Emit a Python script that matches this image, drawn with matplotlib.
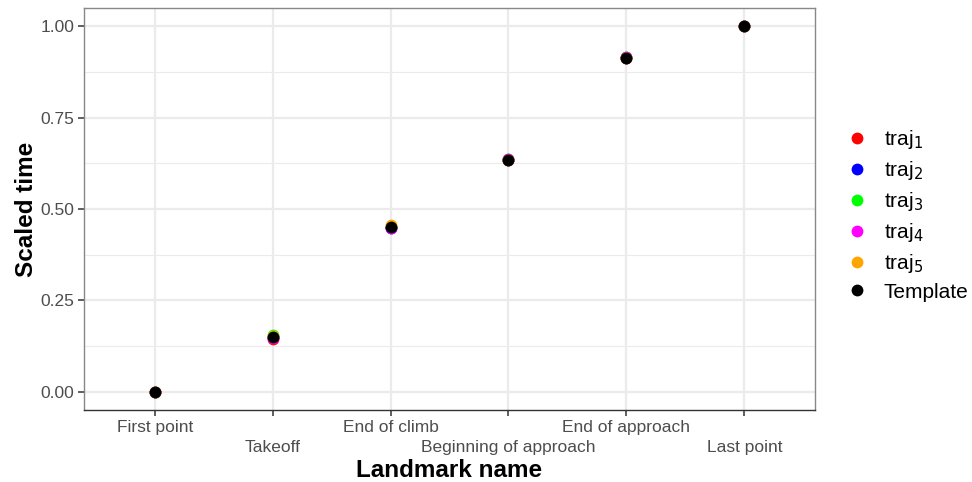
import matplotlib

matplotlib.use("Agg")

import matplotlib.pyplot as plt
from matplotlib.lines import Line2D

plt.rcParams["font.family"] = ["Liberation Sans", "DejaVu Sans"]

LANDMARKS = [
    "First point",
    "Takeoff",
    "End of climb",
    "Beginning of approach",
    "End of approach",
    "Last point",
]

# scaled landmark times per trajectory
TRAJ_1 = [0.0, 0.144, 0.450, 0.635, 0.914, 1.0]
TRAJ_2 = [0.0, 0.149, 0.449, 0.635, 0.914, 1.0]
TRAJ_3 = [0.0, 0.154, 0.452, 0.636, 0.915, 1.0]
TRAJ_4 = [0.0, 0.148, 0.447, 0.637, 0.916, 1.0]
TRAJ_5 = [0.0, 0.153, 0.456, 0.635, 0.914, 1.0]
TEMPLATE = [0.0, 0.149, 0.451, 0.635, 0.914, 1.0]

SERIES = [
    (r"traj$_1$", TRAJ_1, "#ff0000"),
    (r"traj$_2$", TRAJ_2, "#0000ff"),
    (r"traj$_3$", TRAJ_3, "#00ff00"),
    (r"traj$_4$", TRAJ_4, "#ff00ff"),
    (r"traj$_5$", TRAJ_5, "#ffa500"),
    ("Template", TEMPLATE, "#000000"),
]

Y_TICKS = [0.0, 0.25, 0.5, 0.75, 1.0]
Y_MINOR = [0.125, 0.375, 0.625, 0.875]

fig = plt.figure(figsize=(9.72, 4.82), dpi=100)
ax = fig.add_axes([84 / 972, 1 - 410 / 482, 731 / 972, 402 / 482])

x = list(range(len(LANDMARKS)))
for label, values, color in SERIES:
    ax.scatter(x, values, s=72, color=color, linewidths=0, zorder=3, label=label)

ax.set_xlim(-0.6, len(LANDMARKS) - 0.4)
ax.set_ylim(-0.05, 1.05)

# alternate rows of category labels: major ticks on even, minor on odd positions
ax.set_xticks(x[0::2])
ax.set_xticklabels(LANDMARKS[0::2])
ax.set_xticks(x[1::2], minor=True)
ax.set_xticklabels(LANDMARKS[1::2], minor=True)
ax.tick_params(axis="x", which="major", length=4, width=1.1, color="#333333",
               pad=3, labelsize=12.5, labelcolor="#4d4d4d")
ax.tick_params(axis="x", which="minor", length=4, width=1.1, color="#333333",
               pad=17.5, labelsize=12.5, labelcolor="#4d4d4d")

ax.set_yticks(Y_TICKS)
ax.set_yticklabels(["0.00", "0.25", "0.50", "0.75", "1.00"])
ax.set_yticks(Y_MINOR, minor=True)
ax.tick_params(axis="y", which="major", length=4, width=1.1, color="#333333",
               pad=3, labelsize=12.5, labelcolor="#4d4d4d")
ax.tick_params(axis="y", which="minor", length=0)

ax.grid(True, axis="x", which="both", color="#ebebeb", linewidth=1.6)
ax.grid(True, axis="y", which="major", color="#ebebeb", linewidth=1.6)
ax.grid(True, axis="y", which="minor", color="#ebebeb", linewidth=0.8)
ax.set_axisbelow(True)

for spine in ax.spines.values():
    spine.set_color("#888888")
    spine.set_linewidth(1.0)
ax.spines["bottom"].set_color("#333333")

ax.set_xlabel("Landmark name", fontsize=17.5, fontweight="bold", labelpad=3)
ax.set_ylabel("Scaled time", fontsize=17.5, fontweight="bold", labelpad=2)

handles = [
    Line2D([], [], marker="o", linestyle="", markersize=8.5,
           markerfacecolor=c, markeredgewidth=0, label=lab)
    for lab, _, c in SERIES
]
fig.legend(
    handles=handles,
    loc="center left",
    bbox_to_anchor=(839 / 972, 1 - 215 / 482),
    frameon=False,
    fontsize=15,
    handletextpad=0.85,
    labelspacing=0.38,
    handlelength=0.9,
    borderaxespad=0,
)

fig.savefig("out.png", dpi=100)
